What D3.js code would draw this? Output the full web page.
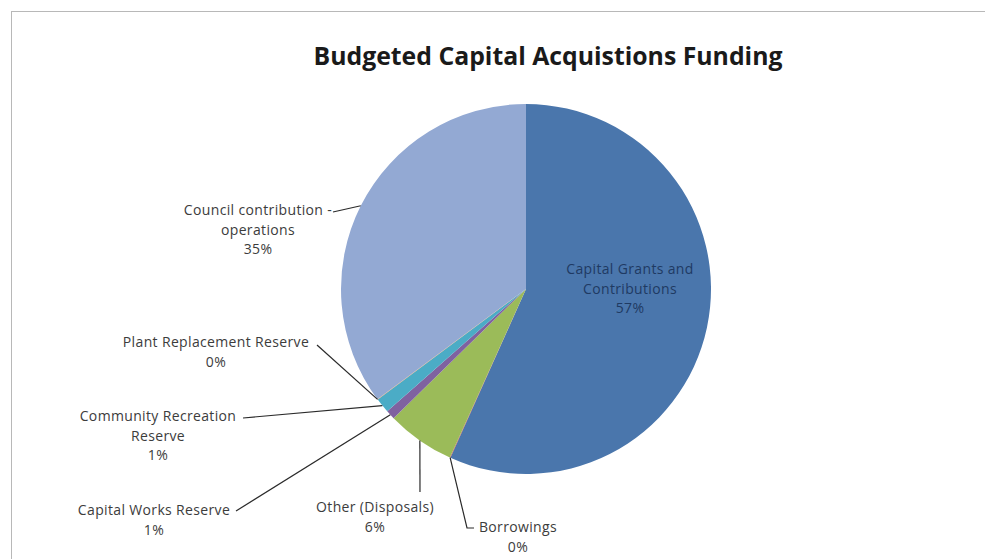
<!DOCTYPE html>
<html><head><meta charset="utf-8">
<script src="https://cdn.jsdelivr.net/npm/d3@7/dist/d3.min.js"></script>
<style>
html,body{margin:0;padding:0;background:#fff;}
svg{display:block;}
</style></head>
<body>
<svg id="chart" width="985" height="559"></svg>
<script>
// ---- data ----
const categories = ["Capital Grants and Contributions","Borrowings","Other (Disposals)","Capital Works Reserve","Community Recreation Reserve","Plant Replacement Reserve","Council contribution - operations"];
const values = [56.7, 0.05, 5.95, 0.8, 1.3, 0.05, 35.15];
const percentLabels = ["57%","0%","6%","1%","1%","0%","35%"];
const labelLines = [["Capital Grants and","Contributions"],["Borrowings"],["Other (Disposals)"],["Capital Works Reserve"],["Community Recreation","Reserve"],["Plant Replacement Reserve"],["Council contribution -","operations"]];
const colors = ["#4A76AC","#C0504D","#9BBB59","#7F62A0","#4BACC6","#F79646","#93A9D3"];
const title = "Budgeted Capital Acquistions Funding";

// ---- layout ----
const W = 985, H = 559;
const cx = 526, cy = 289, R = 185;
// label anchor (text centre x, first line baseline y) and leader end
const labelLayout = [
  {x:630, y:274, inside:true},
  {x:518, y:532, lx:467, ly:528, hook:[474,528]},
  {x:375, y:512, lx:420, ly:492},
  {x:154, y:515, lx:236, ly:511},
  {x:158, y:421, lx:243, ly:418},
  {x:216, y:347, lx:317, ly:345},
  {x:258, y:215, lx:333, ly:212}
];

const svg = d3.select("#chart");
svg.append("rect").attr("x",11.5).attr("y",11.5).attr("width",W).attr("height",H)
  .attr("fill","#fff").attr("stroke","#B8B8B8").attr("stroke-width",1);

svg.append("text").attr("x",548).attr("y",65).attr("text-anchor","middle")
  .attr("font-family","'Open Sans', Lato, sans-serif").attr("font-weight","bold")
  .attr("font-size",24.8).attr("fill","#1a1a1a").text(title);

const data = categories.map((c,i)=>({name:c,value:values[i],i}));
const pie = d3.pie().sort(null).value(d=>d.value);
const arcs = pie(data);
const arc = d3.arc().innerRadius(0).outerRadius(R);

const g = svg.append("g").attr("transform",`translate(${cx},${cy})`);
g.selectAll("path").data(arcs).join("path")
  .attr("d",arc).attr("fill",d=>colors[d.data.i]);

// leader lines
const lineG = svg.append("g");
arcs.forEach((a,i)=>{
  const L = labelLayout[i];
  if (L.inside) return;
  const mid = (a.startAngle+a.endAngle)/2;
  const px = cx + R*Math.sin(mid), py = cy - R*Math.cos(mid);
  const pts = [[L.lx,L.ly],[px,py]];
  if (L.hook) pts.unshift(L.hook);
  lineG.append("path").attr("d",d3.line()(pts)).attr("fill","none")
    .attr("stroke","#2a2a2a").attr("stroke-width",1.2);
});

// labels
const lblG = svg.append("g").attr("font-family","'Open Sans', Lato, sans-serif")
  .attr("font-size",14).attr("letter-spacing","0.35px");
arcs.forEach((a,i)=>{
  const L = labelLayout[i];
  const lines = labelLines[i].concat([percentLabels[i]]);
  const t = lblG.append("text").attr("text-anchor","middle")
    .attr("fill", L.inside ? "#1F3A63" : "#3c3c3c");
  lines.forEach((s,k)=>{
    t.append("tspan").attr("x",L.x).attr("y",L.y + k*19.5).text(s);
  });
});
</script>
</body></html>
